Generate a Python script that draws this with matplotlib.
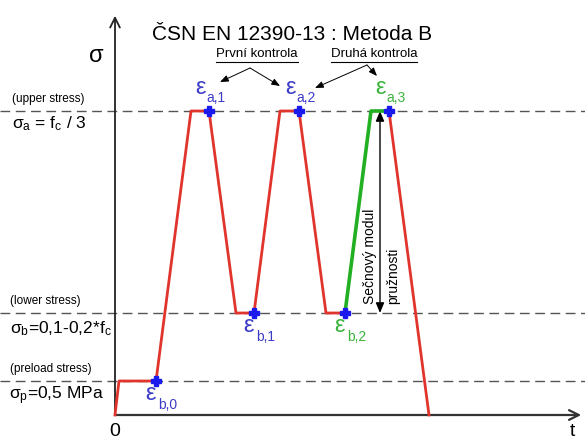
import numpy as np
import matplotlib.pyplot as plt
from matplotlib.lines import Line2D

plt.rcParams['font.family'] = ['Liberation Sans', 'DejaVu Sans']
plt.rcParams['mathtext.fontset'] = 'custom'
plt.rcParams['mathtext.rm'] = 'Liberation Sans'
plt.rcParams['mathtext.it'] = 'Liberation Sans:italic'

# stress levels (arbitrary units)
sigma_p = 3.4
sigma_b = 10.2
sigma_a = 30.4

# loading path (time, stress)
t_red = [0, 0.4, 4.1, 7.6, 9.4, 12.1, 13.9, 16.5, 18.4, 21.1, 23.0]
s_red = [0, sigma_p, sigma_p, sigma_a, sigma_a, sigma_b, sigma_b, sigma_a, sigma_a, sigma_b, sigma_b]
t_green = [23.0, 25.6, 27.4]
s_green = [sigma_b, sigma_a, sigma_a]
t_unload = [27.4, 31.4]
s_unload = [sigma_a, 0]

# strain readings
eps_t = [4.1, 9.4, 13.9, 18.4, 23.0, 27.4]
eps_s = [sigma_p, sigma_a, sigma_b, sigma_a, sigma_b, sigma_a]
eps_sub = ['b,0', 'a,1', 'b,1', 'a,2', 'b,2', 'a,3']
eps_green = ['b,2', 'a,3']

RED = '#e0342c'
GREEN = '#22b022'
BLUE_TXT = '#3c3cc8'
GREEN_TXT = '#3cb43c'


def P(x, y):
    # reference pixel -> data coords (layout helper)
    return (x - 115) / 10, (415 - y) / 10


fig = plt.figure(figsize=(5.85, 4.41), dpi=100)
ax = fig.add_axes([0, 0, 1, 1])
ax.set_xlim(-11.5, 47.0)
ax.set_ylim(-2.6, 41.5)
ax.axis('off')

# dashed stress levels
for s in [sigma_p, sigma_b, sigma_a]:
    ax.plot([-11.5, 47.0], [s, s], color='#555555', lw=1, ls=(0, (7, 4)), zorder=1)

# axes with arrows
ax.annotate('', xy=(0, 40.2), xytext=(0, -0.1),
            arrowprops=dict(arrowstyle='->,head_length=0.7,head_width=0.35', lw=1.3, color='#222222'))
ax.annotate('', xy=(46.9, 0), xytext=(-0.1, 0),
            arrowprops=dict(arrowstyle='->,head_length=0.7,head_width=0.35', lw=1.6, color='#333333'))

# load path
ax.plot(t_red, s_red, color=RED, lw=2, zorder=3)
ax.plot(t_unload, s_unload, color=RED, lw=2, zorder=3)
ax.plot(t_green, s_green, color=GREEN, lw=2.6, zorder=4)
ax.plot(eps_t, eps_s, ls='none', marker='P', ms=7, color='#1a1aee', mec='#1a1aee', zorder=5)

# epsilon labels
for t, s, sub in zip(eps_t, eps_s, eps_sub):
    c = GREEN_TXT if sub in eps_green else BLUE_TXT
    if sub[0] == 'a':
        ex, ey, sx, sy = -0.9, 2.3, -0.3, 1.3
    else:
        ex, ey, sx, sy = -0.6, -1.35, 0.25, -2.4
    ax.text(t + ex, s + ey, 'ε', color=c, fontsize=17, ha='center', va='center')
    ax.text(t + sx, s + sy, sub, color=c, fontsize=10, ha='left', va='center')

# secant modulus arrow
x_mod = P(380, 0)[0]
ax.annotate('', xy=(x_mod, sigma_a), xytext=(x_mod, sigma_b),
            arrowprops=dict(arrowstyle='<|-|>,head_length=0.6,head_width=0.25', lw=1, color='black',
                            shrinkA=0, shrinkB=0))
ax.text(*P(370, 304), 'Sečnový modul', rotation=90, fontsize=10, ha='center', va='bottom')
ax.text(*P(393, 304), 'pružnosti', rotation=90, fontsize=10, ha='center', va='bottom')

# title and check labels
ax.text(*P(292, 40), 'ČSN EN 12390-13 : Metoda B', fontsize=15, ha='center', va='baseline')
t1 = ax.text(*P(257, 57), 'První kontrola', fontsize=9.5, ha='center', va='baseline')
t2 = ax.text(*P(374, 57), 'Druhá kontrola', fontsize=9.5, ha='center', va='baseline')

arr = dict(arrowstyle='-|>,head_length=0.5,head_width=0.2', lw=0.7, color='black', shrinkA=0, shrinkB=0)
for apex, tips in [((250, 68), [(220, 82), (280, 86)]), ((367, 65), [(315, 88), (377, 76)])]:
    for tip in tips:
        ax.annotate('', xy=P(*tip), xytext=P(*apex), arrowprops=arr)

# left side labels
ax.text(*P(96, 56), 'σ', fontsize=17, ha='center', va='center')
ax.text(*P(12, 99), '(upper stress)', fontsize=8.5, ha='left', va='center')
ax.text(*P(12, 128), r'$\mathregular{\sigma_a\text{ = }f_c\text{ / 3}}$', fontsize=12.5, ha='left', va='baseline')
ax.text(*P(10, 301), '(lower stress)', fontsize=8.5, ha='left', va='center')
ax.text(*P(10, 333), r'$\mathregular{\sigma_b\text{=0,1-0,2*}f_c}$', fontsize=12.5, ha='left', va='baseline')
ax.text(*P(10, 369), '(preload stress)', fontsize=8.5, ha='left', va='center')
ax.text(*P(9, 399), r'$\mathregular{\sigma_p\text{=0,5 MPa}}$', fontsize=12.5, ha='left', va='baseline')
ax.text(*P(115, 432), '0', fontsize=14, ha='center', va='center')
ax.text(*P(572, 432), 't', fontsize=14, ha='center', va='center')

# underline check labels
fig.canvas.draw()
inv = fig.transFigure.inverted()
for t in [t1, t2]:
    bb = t.get_window_extent().transformed(inv)
    fig.add_artist(Line2D([bb.x0, bb.x1], [bb.y0 - 0.004, bb.y0 - 0.004],
                          transform=fig.transFigure, color='black', lw=0.8))

fig.savefig('out.png', dpi=100)
